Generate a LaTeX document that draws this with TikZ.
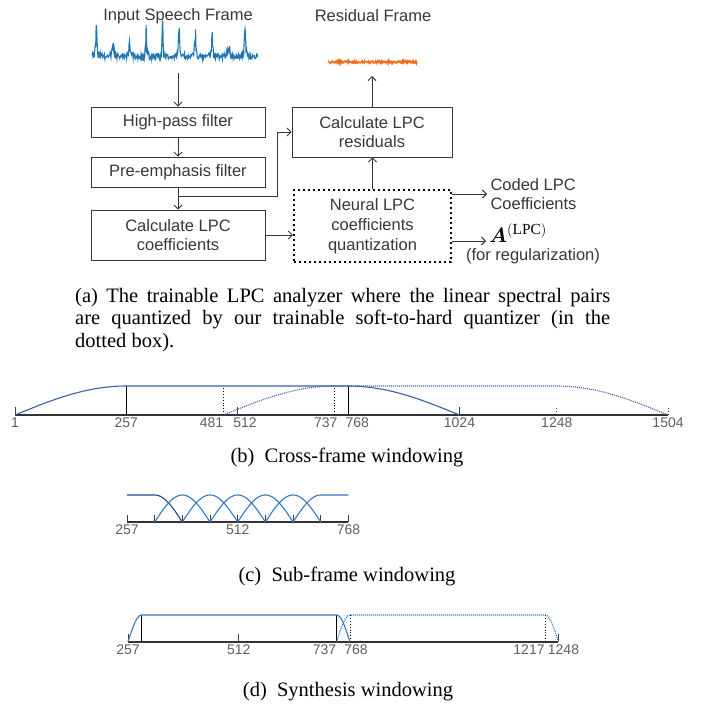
\documentclass[tikz,border=0pt]{standalone}
\usepackage{fontspec}
\usepackage{amsmath}
\setmainfont{Liberation Serif}
\newfontfamily\diagfont{Liberation Sans}
\usetikzlibrary{positioning, arrows.meta, calc}
\definecolor{txtgray}{RGB}{55,55,55}
\definecolor{tickgray}{RGB}{95,95,95}
\definecolor{wavblue}{RGB}{31,119,180}
\definecolor{wavorange}{RGB}{245,105,25}
\definecolor{winblue}{RGB}{55,95,170}
\definecolor{winlight}{RGB}{50,120,195}
\definecolor{windark}{RGB}{40,70,140}

\begin{document}
\begin{tikzpicture}[x=1pt, y=-1pt,
    declare function={pulse(\t)=1/(1+50*sin((\t-113)*10.909)*sin((\t-113)*10.909));
                      spike(\t)=0.45+0.55*abs(sin(\t*23.7));},
    block/.style={draw=txtgray, rectangle, align=center, text=txtgray, line width=0.9pt, minimum width=174pt, font=\diagfont\fontsize{16.5}{19.5}\selectfont},
    qbox/.style={draw=black, rectangle, align=center, text=txtgray, line width=2.4pt, dash pattern=on 2.4pt off 2.6pt, minimum width=157pt, minimum height=72pt, font=\diagfont\fontsize{16.5}{20}\selectfont},
    txt/.style={text=txtgray, align=center, font=\diagfont\fontsize{16.5}{19.5}\selectfont},
    arrow/.style={-{Straight Barb[length=4pt, width=8pt]}, draw=txtgray, line width=0.9pt},
    captxt/.style={text=black, font=\fontsize{20.5}{22.5}\selectfont},
    axisline/.style={draw=black!80, line width=1.2pt},
    tickmark/.style={draw=black!75, line width=0.9pt},
    fullmark/.style={draw=black, line width=0.9pt},
    ticklbl/.style={anchor=north, text=tickgray, inner sep=1pt, font=\diagfont\fontsize{14}{16}\selectfont},
    win/.style={draw=winblue, line width=1.1pt},
    dotwin/.style={draw=winblue, line width=1.1pt, dash pattern=on 1pt off 1pt}]
\useasboundingbox (0,0) rectangle (710,706);

\pgfmathsetseed{17}
\node[txt] (inlbl) at (178,16) {Input Speech Frame};
\draw[wavblue, line width=1.1pt] plot[domain=92:258, samples=360] (\x, {57 - 28*spike(\x)*pulse(\x) + (2.5 + 12*pulse(\x))*rand});
\coordinate (spin) at (178,73);

\node[txt] (reslbl) at (373,16) {Residual Frame};
\draw[wavorange, line width=1.3pt] plot[domain=328:417, samples=220] (\x, {62 + 1.2*rand});
\coordinate (resout) at (372,76);

\node[block, minimum height=30pt] (hp) at (178,122) {High-pass filter};
\node[block, minimum height=30pt] (pre) at (178,172) {Pre-emphasis filter};
\node[block, minimum height=50pt] (lpc) at (178,235) {Calculate LPC\\coefficients};
\node[block, minimum width=160pt, minimum height=50pt] (res) at (372,132) {Calculate LPC\\residuals};
\node[qbox] (nq) at (372.5,226) {Neural LPC\\coefficients\\quantization};
\node[txt, anchor=west, align=left] (coded) at (487,194) {Coded LPC\\Coefficients};
\node[anchor=west, inner sep=1pt, font=\fontsize{22}{24}\selectfont] (amat) at (488,233) {$\boldsymbol{A}^{(\mathrm{LPC})}$};
\node[txt] (forreg) at (533,256) {(for regularization)};
\coordinate (aend) at (486,241);
\coordinate (br) at (178,196);
\coordinate (bend) at (277,196);

\draw[arrow] (spin) -- (hp);
\draw[arrow] (hp) -- (pre);
\draw[arrow] (pre) -- (lpc);
\draw[arrow] (br) -- (bend) |- (res.west);
\draw[arrow] (lpc.east) -- (lpc.east -| nq.west);
\draw[arrow] (nq.north) -- (nq.north |- res.south);
\draw[arrow] (res.north) -- (resout);
\draw[arrow] (coded.west -| nq.east) -- (coded.west);
\draw[arrow] (aend -| nq.east) -- (aend);

\node[captxt, text width=535pt, align=justify, anchor=north west, inner sep=0pt] (capa) at (75,288) {(a) The trainable LPC analyzer where the linear spectral pairs\linebreak are quantized by our trainable soft-to-hard quantizer (in the\linebreak dotted box).};

\begin{scope}[shift={(14.5655,0)}, x=0.4345pt]
\draw[axisline] (1,415) -- (1504,415);
\foreach \n in {1,512,1024} \draw[tickmark] (\n,415) -- (\n,407);
\foreach \n in {1248,1504} \draw[tickmark, dotted] (\n,415) -- (\n,407);
\foreach \n in {257,768} \draw[fullmark] (\n,415) -- (\n,386);
\foreach \n in {481,737} \draw[fullmark, dotted] (\n,415) -- (\n,386);
\draw[win] plot[domain=1:257, samples=40] (\x, {415-29*sin((\x-1)*0.35156)}) -- (768,386) -- plot[domain=768:1024, samples=40] (\x, {415-29*cos((\x-768)*0.35156)});
\draw[dotwin] plot[domain=481:737, samples=40] (\x, {415-29*sin((\x-481)*0.35156)}) -- (1248,386) -- plot[domain=1248:1504, samples=40] (\x, {415-29*cos((\x-1248)*0.35156)});
\foreach \n/\dx in {1/0, 257/0, 481/-12, 512/8, 737/-9, 768/9, 1024/0, 1248/0, 1504/0}
    \node[ticklbl, xshift=\dx pt] (b\n) at (\n,417) {\n};
\end{scope}
\node[captxt] (capb) at (347,457) {(b)~ Cross-frame windowing};

\begin{scope}[shift={(15.85,0)}, x=0.4325pt]
\draw[axisline] (257,522) -- (769,522);
\foreach \k in {0,...,8} \draw[tickmark] ({257+64*\k},522) -- ({257+64*\k},515);
\draw[draw=windark, line width=1.1pt] (257,495) -- (321,495) -- plot[domain=321:385, samples=25] (\x, {522-27*cos((\x-321)*1.40625)});
\foreach \c in {385,449,513,577,641}
    \draw[draw=winlight, line width=1.1pt] plot[domain={\c-64}:{\c+64}, samples=40] (\x, {522-27*sin((\x-\c+64)*1.40625)});
\draw[draw=winlight, line width=1.1pt] plot[domain=641:705, samples=25] (\x, {522-27*sin((\x-641)*1.40625)}) -- (769,495);
\foreach \n/\m in {257/257, 512/513, 768/769}
    \node[ticklbl] (c\n) at (\m,524) {\n};
\end{scope}
\node[captxt] (capc) at (347,576) {(c)~ Sub-frame windowing};

\begin{scope}[shift={(16.36,0)}, x=0.4344pt]
\draw[axisline] (257,642) -- (1248,642);
\foreach \n in {257,512,1248} \draw[tickmark] (\n,642) -- (\n,634);
\foreach \n in {288,737} \draw[fullmark] (\n,642) -- (\n,615);
\foreach \n in {768,1217} \draw[fullmark, dotted] (\n,642) -- (\n,615);
\draw[draw=winlight, line width=1.1pt] plot[domain=257:288, samples=20] (\x, {642-27*sin((\x-257)*2.9032)}) -- (737,615) -- plot[domain=737:768, samples=20] (\x, {642-27*cos((\x-737)*2.9032)});
\draw[draw=winlight, line width=1.1pt, dash pattern=on 1pt off 1pt] plot[domain=737:768, samples=20] (\x, {642-27*sin((\x-737)*2.9032)}) -- (1217,615) -- plot[domain=1217:1248, samples=20] (\x, {642-27*cos((\x-1217)*2.9032)});
\foreach \n/\dx in {257/0, 512/0, 737/-12, 768/6, 1217/-16, 1248/5}
    \node[ticklbl, xshift=\dx pt] (d\n) at (\n,644) {\n};
\end{scope}
\node[captxt] (capd) at (348,692) {(d)~ Synthesis windowing};
\end{tikzpicture}
\end{document}
